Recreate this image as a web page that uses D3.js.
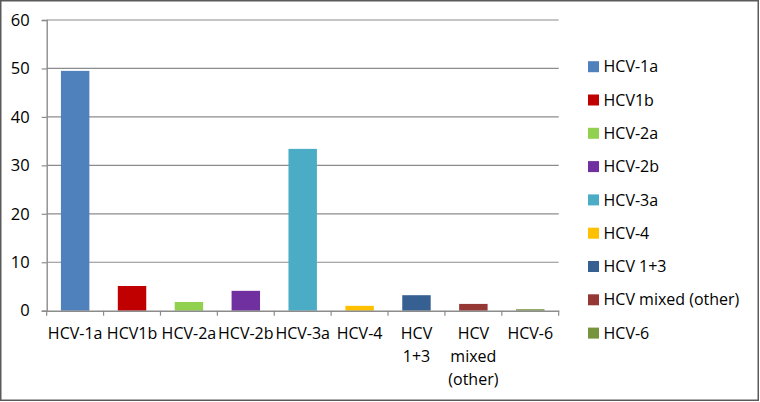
<!DOCTYPE html>
<html><head><meta charset="utf-8">
<script src="https://cdn.jsdelivr.net/npm/d3@7"></script>
<style>body{margin:0;background:#fff}svg{display:block}</style>
</head><body>
<svg id="c" width="760" height="402"></svg>
<script>
const categories = ["HCV-1a","HCV1b","HCV-2a","HCV-2b","HCV-3a","HCV-4","HCV 1+3","HCV mixed (other)","HCV-6"];
const axisLabels = [["HCV-1a"],["HCV1b"],["HCV-2a"],["HCV-2b"],["HCV-3a"],["HCV-4"],["HCV","1+3"],["HCV","mixed","(other)"],["HCV-6"]];
const values = [49.5, 5.1, 1.8, 4.1, 33.4, 1.0, 3.2, 1.4, 0.3];
const colors = ["#4F81BD","#C00000","#92D050","#7030A0","#4BACC6","#FFC000","#376092","#953735","#77933C"];
const yTicks = [0,10,20,30,40,50,60];

const svg = d3.select("#c");
const font = "'Open Sans', 'Liberation Sans', sans-serif";
svg.append("rect").attr("x",0.75).attr("y",0.75).attr("width",757.5).attr("height",399.5)
  .attr("fill","#fff").attr("stroke","#5a5a5a").attr("stroke-width",1.5);

const L=46.7, R=558.7, T=20, B=310.7;
const x = d3.scaleBand().domain(categories).range([L,R]).paddingInner(0.5).paddingOuter(0.25);
const y = d3.scaleLinear().domain([0,60]).range([B,T]);

// gridlines
svg.append("g").selectAll("line").data(yTicks.filter(d=>d>0)).join("line")
  .attr("x1",L).attr("x2",R).attr("y1",d=>y(d)).attr("y2",d=>y(d))
  .attr("stroke","#8c8c8c").attr("stroke-width",1.2);

// bars
svg.append("g").selectAll("rect").data(values).join("rect")
  .attr("x",(d,i)=>x(categories[i])).attr("width",x.bandwidth())
  .attr("y",d=>y(d)).attr("height",d=>B-y(d))
  .attr("fill",(d,i)=>colors[i]);

// y axis
const ya = svg.append("g").attr("transform",`translate(${L},0)`)
  .call(d3.axisLeft(y).tickValues(yTicks).tickSize(5).tickPadding(12));
ya.select(".domain").attr("stroke","#8c8c8c").attr("stroke-width",1.4);
ya.selectAll(".tick line").attr("stroke","#8c8c8c").attr("stroke-width",1.2);
ya.selectAll("text").attr("font-family",font).attr("font-size",16.5).attr("fill","#000");

// x axis
const xa = svg.append("g").attr("transform",`translate(0,${B})`)
  .call(d3.axisBottom(x).tickSize(0).tickSizeOuter(0).tickFormat(""));
xa.select(".domain").attr("stroke","#8c8c8c").attr("stroke-width",1.4);
const step = x.step();
const bounds = d3.range(categories.length+1).map(i=>L+i*step);
svg.append("g").selectAll("line").data(bounds).join("line")
  .attr("x1",d=>d).attr("x2",d=>d).attr("y1",B).attr("y2",B+5)
  .attr("stroke","#8c8c8c").attr("stroke-width",1.2);
const xl = svg.append("g").selectAll("text").data(axisLabels).join("text")
  .attr("x",(d,i)=>x(categories[i])+x.bandwidth()/2).attr("y",B+28)
  .attr("text-anchor","middle").attr("font-family",font).attr("font-size",16).attr("fill","#000");
xl.selectAll("tspan").data(d=>d).join("tspan")
  .attr("x",function(){return this.parentNode.getAttribute("x");})
  .attr("dy",(d,i)=>i===0?0:23).text(d=>d);

// legend
const lg = svg.append("g").selectAll("g").data(categories).join("g")
  .attr("transform",(d,i)=>`translate(588,${66.7+i*33.3})`);
lg.append("rect").attr("x",0).attr("y",-5.5).attr("width",11).attr("height",11).attr("fill",(d,i)=>colors[i]);
lg.append("text").attr("x",15.5).attr("y",0).attr("dy","0.35em")
  .attr("font-family",font).attr("font-size",16).attr("fill","#000").text(d=>d);
</script>
</body></html>
